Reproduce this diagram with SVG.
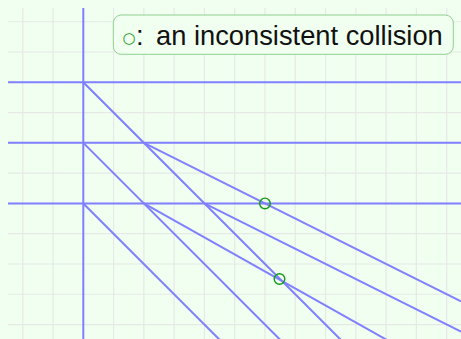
<svg xmlns="http://www.w3.org/2000/svg" width="461" height="339" viewBox="0 0 461 339">
<style>
.grid line{stroke:#e6e9e6;stroke-width:1.2}
.ray{stroke:#8080ff;stroke-width:2;fill:none}
.hit{stroke:#129a12;stroke-width:1.4;fill:none}
.lbl{font-family:"Liberation Sans",Arial,sans-serif;font-size:27.3px;fill:#111}
</style>
<rect x="0" y="0" width="461" height="339" fill="#f0fff0"/>
<g class="grid" id="grid">
<line x1="22.74" y1="8" x2="22.74" y2="339"/>
<line x1="53.02" y1="8" x2="53.02" y2="339"/>
<line x1="83.3" y1="8" x2="83.3" y2="339"/>
<line x1="113.58" y1="8" x2="113.58" y2="339"/>
<line x1="143.86" y1="8" x2="143.86" y2="339"/>
<line x1="174.14" y1="8" x2="174.14" y2="339"/>
<line x1="204.42" y1="8" x2="204.42" y2="339"/>
<line x1="234.7" y1="8" x2="234.7" y2="339"/>
<line x1="264.98" y1="8" x2="264.98" y2="339"/>
<line x1="295.26" y1="8" x2="295.26" y2="339"/>
<line x1="325.54" y1="8" x2="325.54" y2="339"/>
<line x1="355.82" y1="8" x2="355.82" y2="339"/>
<line x1="386.1" y1="8" x2="386.1" y2="339"/>
<line x1="416.38" y1="8" x2="416.38" y2="339"/>
<line x1="446.66" y1="8" x2="446.66" y2="339"/>
<line x1="8" y1="21.74" x2="461" y2="21.74"/>
<line x1="8" y1="52.02" x2="461" y2="52.02"/>
<line x1="8" y1="82.3" x2="461" y2="82.3"/>
<line x1="8" y1="112.58" x2="461" y2="112.58"/>
<line x1="8" y1="142.86" x2="461" y2="142.86"/>
<line x1="8" y1="173.14" x2="461" y2="173.14"/>
<line x1="8" y1="203.42" x2="461" y2="203.42"/>
<line x1="8" y1="233.7" x2="461" y2="233.7"/>
<line x1="8" y1="263.98" x2="461" y2="263.98"/>
<line x1="8" y1="294.26" x2="461" y2="294.26"/>
<line x1="8" y1="324.54" x2="461" y2="324.54"/>
</g>
<g id="connectors">
<line class="ray" x1="8" y1="82.3" x2="461" y2="82.3"/>
<line class="ray" x1="8" y1="142.86" x2="461" y2="142.86"/>
<line class="ray" x1="8" y1="203.42" x2="461" y2="203.42"/>
<line class="ray" x1="83.3" y1="8" x2="83.3" y2="339"/>
<line class="ray" x1="83.3" y1="82.3" x2="343.3" y2="342.3"/>
<line class="ray" x1="83.3" y1="142.86" x2="283.3" y2="342.86"/>
<line class="ray" x1="83.3" y1="203.42" x2="223.3" y2="343.42"/>
<line class="ray" x1="143.86" y1="142.86" x2="461" y2="301.43"/>
<line class="ray" x1="204.42" y1="203.42" x2="461" y2="331.71"/>
<line class="ray" x1="143.86" y1="203.42" x2="390" y2="341.7"/>
</g>
<g id="collision1"><circle class="hit" cx="264.98" cy="203.42" r="5.3"/></g>
<g id="collision2"><circle class="hit" cx="279.5" cy="279" r="5.3"/></g>
<g id="legend">
<rect x="113.3" y="15" width="340" height="39.3" rx="8" ry="8" fill="#f0fff0" stroke="#8fcf8f" stroke-width="1"/>
<text class="lbl" x="122.5" y="45"><tspan fill="#129a12" font-family="DejaVu Sans, sans-serif" font-size="15" dy="-2.5">○</tspan><tspan x="136" dy="2.5">:</tspan><tspan x="156">an inconsistent collision</tspan></text>
</g>
</svg>
